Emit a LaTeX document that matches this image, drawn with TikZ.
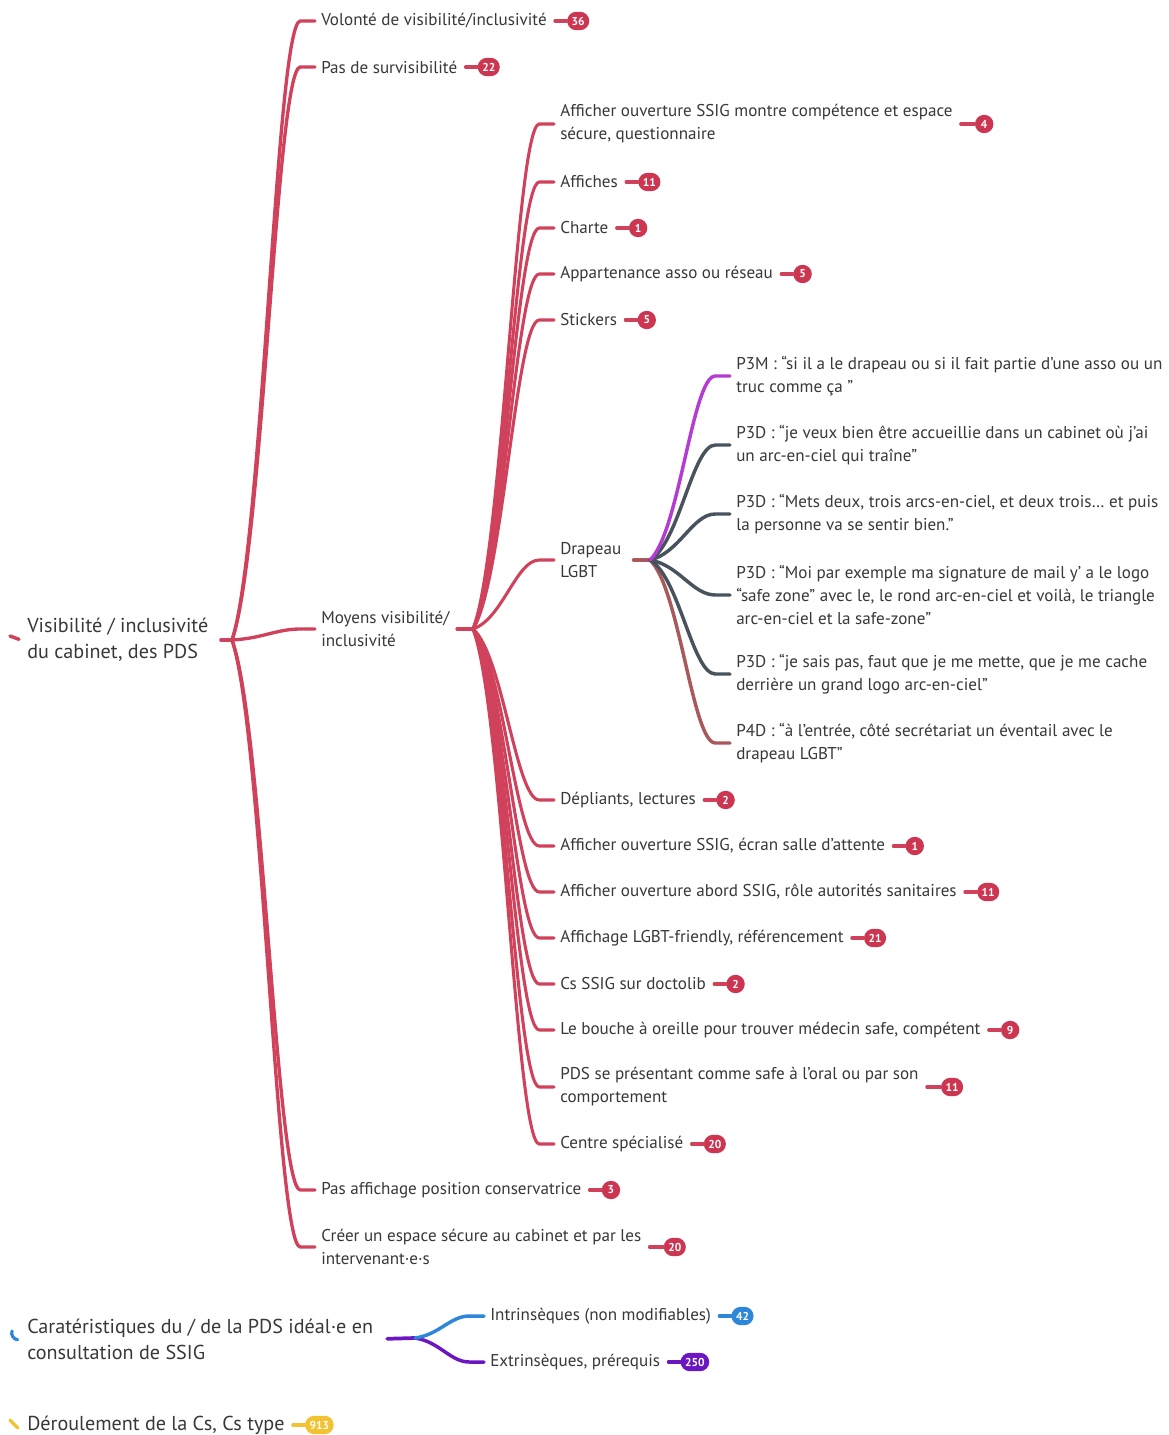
\documentclass[tikz,border=0pt]{standalone}
\usepackage{fontspec}
\setmainfont{PT Sans}
\usetikzlibrary{calc,positioning}
\definecolor{crim}{HTML}{D0415C}
\definecolor{badgered}{HTML}{CD3651}
\definecolor{txt}{HTML}{383838}
\definecolor{slate}{HTML}{48535E}
\definecolor{mag}{HTML}{B53CD2}
\definecolor{pfour}{HTML}{A9585C}
\definecolor{blu}{HTML}{2E86D9}
\definecolor{purp}{HTML}{6C16C2}
\definecolor{yel}{HTML}{F2C230}
\tikzset{
  t/.style={anchor=west, inner ysep=0pt, inner xsep=4.5pt, text=txt, font=\fontsize{12.8}{17.25}\selectfont, align=left},
  rt/.style={anchor=west, inner ysep=0pt, inner xsep=4.5pt, text=txt, font=\fontsize{15.1}{19.5}\selectfont, align=left},
  badge/.style={fill=#1, rounded corners=6.9pt, text=white, font=\fontsize{8.6}{8.6}\selectfont\bfseries, minimum height=13.8pt, minimum width=13.8pt, inner xsep=3.4pt, inner ysep=0pt},
  bl/.style={draw=#1, line width=2.3pt, line cap=round, shorten <=1.5pt},
  mm/.style={line cap=round, to path={let \p1=(\tikztostart), \p2=(\tikztotarget) in
     .. controls ({\x1+0.45*(\x2-11pt-\x1)},{\y1+0.15*(\y2-\y1)}) and ({\x1+0.65*(\x2-11pt-\x1)},\y2) .. ({\x2-11pt},\y2) -- (\tikztotarget)}},
  lvtwo/.style={mm, draw=crim, line width=2.5pt},
  lvthree/.style={mm, draw=crim, line width=2.3pt},
  lvfour/.style={mm, draw=#1, line width=2.6pt},
}
\begin{document}
\begin{tikzpicture}[x=0.75pt, y=-0.75pt]
\fill[white] (0,0) rectangle (1169,1435);
\useasboundingbox (0,0) rectangle (1169,1435);

% ---------- root 1 ----------
\node[rt] (r1) at (21,640) {Visibilité / inclusivité\\du cabinet, des PDS};
\coordinate (k1) at (10,636);
\coordinate (j1) at (232,640);

% level 2
\node[t] (v1) at (315,21) {Volonté de visibilité/inclusivité};
\node[t] (v2) at (315,67) {Pas de survisibilité};
\node[t] (v3) at (315,629) {Moyens visibilité/\\inclusivité};
\node[t] (v4) at (315,1190) {Pas affichage position conservatrice};
\node[t] (v5) at (315,1247) {Créer un espace sécure au cabinet et par les\\intervenant·e·s};
\coordinate (j2) at (473,629);

% level 3
\node[t] (m1) at (554,124) {Afficher ouverture SSIG montre compétence et espace\\sécure, questionnaire};
\node[t] (m2) at (554,182) {Affiches};
\node[t] (m3) at (554,228) {Charte};
\node[t] (m4) at (554,274) {Appartenance asso ou réseau};
\node[t] (m5) at (554,320) {Stickers};
\node[t] (m6) at (554,560) {Drapeau\\LGBT};
\node[t] (m7) at (554,800) {Dépliants, lectures};
\node[t] (m8) at (554,846) {Afficher ouverture SSIG, écran salle d’attente};
\node[t] (m9) at (554,892) {Afficher ouverture abord SSIG, rôle autorités sanitaires};
\node[t] (m10) at (554,938) {Affichage LGBT-friendly, référencement};
\node[t] (m11) at (554,984) {Cs SSIG sur doctolib};
\node[t] (m12) at (554,1030) {Le bouche à oreille pour trouver médecin safe, compétent};
\node[t] (m13) at (554,1087) {PDS se présentant comme safe à l’oral ou par son\\comportement};
\node[t] (m14) at (554,1144) {Centre spécialisé};
\coordinate (j3) at (650,560);

% level 4
\node[t] (q1) at (730,376) {P3M : “si il a le drapeau ou si il fait partie d’une asso ou un\\truc comme ça ”};
\node[t] (q2) at (730,445) {P3D : “je veux bien être accueillie dans un cabinet où j’ai\\un arc-en-ciel qui traîne”};
\node[t] (q3) at (730,514) {P3D : “Mets deux, trois arcs-en-ciel, et deux trois… et puis\\la personne va se sentir bien.”};
\node[t] (q4) at (730,595) {P3D : “Moi par exemple ma signature de mail y’ a le logo\\“safe zone” avec le, le rond arc-en-ciel et voilà, le triangle\\arc-en-ciel et la safe-zone”};
\node[t] (q5) at (730,674) {P3D : “je sais pas, faut que je me mette, que je me cache\\derrière un grand logo arc-en-ciel”};
\node[t] (q6) at (730,743) {P4D : “à l’entrée, côté secrétariat un éventail avec le\\drapeau LGBT”};

% badges level 2/3
\node[badge=badgered, right=10.5pt of v1] (b-v1) {36};
\node[badge=badgered, right=10.5pt of v2] (b-v2) {22};
\node[badge=badgered, right=10.5pt of v4] (b-v4) {3};
\node[badge=badgered, right=12pt of v5] (b-v5) {20};
\node[badge=badgered, right=12pt of m1] (b-m1) {4};
\node[badge=badgered, right=10.5pt of m2] (b-m2) {11};
\node[badge=badgered, right=10.5pt of m3] (b-m3) {1};
\node[badge=badgered, right=10.5pt of m4] (b-m4) {5};
\node[badge=badgered, right=10.5pt of m5] (b-m5) {5};
\node[badge=badgered, right=10.5pt of m7] (b-m7) {2};
\node[badge=badgered, right=10.5pt of m8] (b-m8) {1};
\node[badge=badgered, right=10.5pt of m9] (b-m9) {11};
\node[badge=badgered, right=10.5pt of m10] (b-m10) {21};
\node[badge=badgered, right=10.5pt of m11] (b-m11) {2};
\node[badge=badgered, right=10.5pt of m12] (b-m12) {9};
\node[badge=badgered, right=12pt of m13] (b-m13) {11};
\node[badge=badgered, right=10.5pt of m14] (b-m14) {20};

% ---------- connectors root 1 ----------
\draw[crim, line width=2.6pt, line cap=round] (k1) -- ([xshift=-1.5pt,yshift=0.5pt]r1.west);
\draw[crim, line width=3pt, line cap=round, shorten <=5pt] (r1.east) -- (j1);
\foreach \c in {v1,v2,v3,v4,v5} \draw[lvtwo] (j1) to (\c.west);
\draw[crim, line width=2.5pt, line cap=round, shorten <=1pt] (v3.east) -- (j2);
\foreach \c in {m1,m2,m3,m4,m5,m6,m7,m8,m9,m10,m11,m12,m13,m14} \draw[lvthree] (j2) to (\c.west);
\draw[pfour, line width=2.6pt, line cap=round, shorten <=4.5pt] (m6.east) -- (j3);
\draw[lvfour=pfour] (j3) to (q6.west);
\draw[lvfour=slate] (j3) to (q5.west);
\draw[lvfour=slate] (j3) to (q4.west);
\draw[lvfour=slate] (j3) to (q3.west);
\draw[lvfour=slate] (j3) to (q2.west);
\draw[lvfour=mag] (j3) to (q1.west);

\foreach \c in {v1,v2,v4,v5,m1,m2,m3,m4,m5,m7,m8,m9,m10,m11,m12,m13,m14}
  \draw[bl=crim] (\c.east) -- (b-\c.west);

% ---------- root 2 ----------
\node[rt] (r2) at (21,1339) {Caratéristiques du / de la PDS idéal·e en\\consultation de SSIG};
\coordinate (k2) at (12,1331);
\coordinate (j4) at (415,1338);
\node[t] (s1) at (484,1316) {Intrinsèques (non modifiables)};
\node[t] (s2) at (484,1362) {Extrinsèques, prérequis};
\node[badge=blu, right=10.5pt of s1] (b-s1) {42};
\node[badge=purp, right=10.5pt of s2] (b-s2) {250};
\draw[blu, line width=2.4pt, line cap=round] (k2) to[out=-110,in=180] ([xshift=-2.5pt,yshift=-0.5pt]r2.west);
\draw[purp, line width=2.8pt, line cap=round, shorten <=6pt] (r2.east) -- (j4);
\draw[mm, draw=purp, line width=2.6pt] (j4) to (s2.west);
\draw[mm, draw=blu, line width=2.6pt] (j4) to (s1.west);
\draw[bl=blu] (s1.east) -- (b-s1.west);
\draw[bl=purp] (s2.east) -- (b-s2.west);

% ---------- root 3 ----------
\node[rt] (r3) at (21,1425) {Déroulement de la Cs, Cs type};
\coordinate (k3) at (10,1420);
\node[badge=yel, right=10.5pt of r3] (b-r3) {913};
\draw[yel, line width=2.4pt, line cap=round] (k3) -- ([xshift=-2.5pt,yshift=-2pt]r3.west);
\draw[bl=yel] (r3.east) -- (b-r3.west);
\end{tikzpicture}
\end{document}
